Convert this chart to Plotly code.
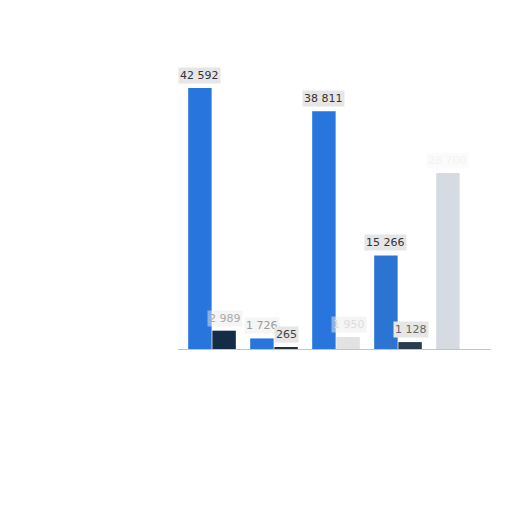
import plotly.graph_objects as go

#grouped bars, two series
categories = ['A', 'B', 'C', 'D', 'E']
blue_values = [42592, 1726, 38811, 15266, 28700]
navy_values = [2989, 265, 1950, 1128, 0]

blue_colors = ['#2876DD', '#2876DD', '#2876DD', '#2C74D2', '#D5DAE3']
navy_colors = ['#142C45', '#22303F', '#E2E2E2', '#2A3B4E', 'rgba(0,0,0,0)']
blue_label_colors = ['#333333', '#999999', '#333333', '#333333', '#F4F4F4']
navy_label_colors = ['#AAAAAA', '#444444', '#DDDDDD', '#666666', 'rgba(0,0,0,0)']


def fmt(v):
    return f'{v:,}'.replace(',', ' ')


fig = go.Figure()
fig.add_trace(go.Bar(x=categories, y=blue_values, name='blue',
                     marker={'color': blue_colors, 'line': {'width': 0}}))
fig.add_trace(go.Bar(x=categories, y=navy_values, name='navy',
                     marker={'color': navy_colors, 'line': {'width': 0}}))

#value labels with the light grey boxes
for i, c in enumerate(categories):
    for vals, cols, shift in ((blue_values, blue_label_colors, -12.5),
                              (navy_values, navy_label_colors, 12.5)):
        if vals[i] <= 0:
            continue
        if cols[i] in ('#333333', '#444444', '#666666'):
            box = '#E6E6E6'
        elif cols[i] == '#F4F4F4':
            box = 'rgba(245,245,245,0.4)'
        else:
            box = 'rgba(235,235,235,0.5)'
        fig.add_annotation(x=c, y=vals[i], text=fmt(vals[i]), showarrow=False,
                           xshift=shift, yshift=4, yanchor='bottom',
                           font={'family': 'DejaVu Sans', 'size': 11, 'color': cols[i]},
                           bgcolor=box, borderpad=1)

fig.update_layout(
    width=512, height=512,
    margin={'l': 170, 'r': 29, 't': 52, 'b': 171},
    barmode='group', bargap=0.22, bargroupgap=0.03,
    showlegend=False,
    plot_bgcolor='white', paper_bgcolor='white',
)
fig.update_xaxes(showticklabels=False, showgrid=False, zeroline=False,
                 showline=True, linecolor='#C4C4C4', linewidth=1)
fig.update_yaxes(range=[0, 47160], visible=False)

fig.write_html('out.html')
